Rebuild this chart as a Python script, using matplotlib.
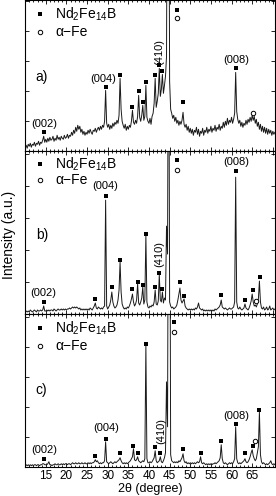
import numpy as np
import matplotlib.pyplot as plt
from matplotlib.ticker import MultipleLocator

plt.rcParams['font.family'] = ['Liberation Sans', 'DejaVu Sans']
plt.rcParams['mathtext.fontset'] = 'custom'
plt.rcParams['mathtext.rm'] = 'Liberation Sans'
plt.rcParams['mathtext.it'] = 'Liberation Sans:italic'

# 2theta grid, 0.25 deg steps
two_theta = np.arange(10.0, 70.51, 0.25)

int_a = [4, 6, 3, 7, 5, 8, 4, 7, 6, 9, 5, 8, 7, 10, 6, 9, 8, 11, 15, 9,
         12, 9, 13, 10, 14, 11, 12, 15, 10, 13, 11, 16, 12, 14, 11, 15, 13, 12, 16, 13,
         14, 17, 13, 16, 15, 19, 16, 21, 18, 24, 20, 26, 22, 25, 19, 22, 17, 20, 16, 19,
         17, 21, 18, 22, 19, 17, 21, 20, 23, 19, 22, 24, 21, 25, 22, 26, 24, 30, 61, 28,
         24, 27, 22, 26, 23, 28, 25, 29, 27, 31, 28, 36, 73, 42, 30, 26, 23, 27, 21, 25,
         22, 26, 24, 30, 41, 29, 27, 31, 28, 35, 56, 34, 30, 36, 46, 31, 35, 66, 34, 30,
         28, 33, 27, 35, 38, 48, 73, 44, 50, 58, 83, 55, 62, 77, 58, 66, 75, 95, 400, 400,
         70, 42, 38, 33, 36, 30, 34, 28, 31, 26, 30, 27, 31, 39, 27, 24, 27, 21, 25, 19,
         23, 18, 22, 16, 21, 19, 24, 17, 22, 15, 20, 18, 23, 16, 21, 19, 24, 18, 22, 20,
         25, 19, 23, 21, 26, 20, 24, 22, 27, 21, 25, 23, 29, 24, 30, 26, 33, 27, 31, 29,
         34, 28, 32, 38, 79, 40, 32, 28, 31, 25, 29, 24, 28, 26, 31, 27, 32, 29, 34, 30,
         36, 31, 35, 28, 32, 25, 29, 22, 27, 20, 25, 19, 24, 18, 23, 17, 22, 18, 21, 16,
         20, 17, 19]

int_b = [2, 3, 2, 3, 2, 4, 3, 2, 3, 4, 3, 2, 4, 3, 3, 4, 3, 4, 8, 3,
         3, 4, 3, 4, 3, 4, 4, 3, 5, 4, 3, 4, 5, 4, 4, 5, 4, 5, 4, 5,
         4, 5, 5, 6, 5, 6, 7, 6, 7, 6, 7, 6, 5, 6, 4, 5, 4, 5, 4, 5,
         4, 5, 4, 6, 5, 4, 6, 8, 11, 6, 5, 7, 6, 5, 6, 5, 7, 8, 114, 8,
         5, 7, 9, 14, 22, 12, 8, 6, 7, 9, 14, 24, 52, 22, 10, 7, 5, 6, 5, 7,
         6, 8, 11, 15, 20, 12, 8, 10, 14, 30, 11, 9, 12, 16, 27, 10, 14, 79, 12, 7,
         6, 8, 7, 9, 8, 12, 24, 10, 9, 13, 39, 14, 12, 22, 11, 16, 14, 88, 60, 400,
         12, 8, 6, 7, 5, 6, 7, 9, 14, 20, 26, 14, 11, 13, 15, 8, 6, 5, 4, 5,
         4, 5, 4, 5, 4, 6, 5, 7, 11, 6, 5, 4, 5, 3, 4, 3, 4, 3, 4, 3,
         4, 3, 4, 3, 5, 4, 5, 6, 7, 9, 14, 7, 6, 5, 6, 5, 4, 5, 6, 5,
         5, 6, 7, 12, 137, 12, 6, 5, 7, 5, 4, 5, 6, 10, 6, 5, 4, 6, 9, 13,
         20, 12, 8, 9, 7, 10, 15, 33, 12, 6, 5, 7, 4, 5, 7, 4, 5, 8, 4, 5,
         6, 4, 5]

int_c = [1, 2, 1, 2, 1, 2, 1, 2, 1, 2, 2, 1, 2, 2, 1, 2, 2, 3, 3, 2,
         2, 2, 3, 5, 2, 2, 1, 2, 2, 3, 2, 2, 3, 2, 2, 3, 2, 3, 2, 3,
         3, 2, 3, 3, 2, 3, 4, 3, 3, 4, 3, 3, 4, 3, 3, 4, 3, 3, 4, 3,
         3, 4, 3, 4, 3, 4, 4, 5, 7, 5, 6, 4, 3, 4, 3, 4, 4, 6, 25, 5,
         4, 3, 4, 5, 4, 3, 4, 5, 4, 5, 6, 7, 9, 6, 4, 3, 4, 3, 4, 3,
         4, 5, 6, 8, 10, 18, 7, 6, 7, 10, 6, 5, 4, 5, 6, 5, 8, 122, 8, 4,
         4, 5, 4, 5, 7, 9, 16, 6, 4, 5, 6, 10, 5, 4, 6, 9, 14, 85, 40, 400,
         400, 12, 6, 5, 4, 5, 4, 5, 4, 6, 5, 7, 9, 13, 6, 4, 5, 3, 4, 3,
         4, 3, 4, 3, 4, 3, 4, 5, 4, 5, 10, 4, 3, 4, 3, 2, 3, 2, 3, 2,
         3, 2, 3, 3, 4, 3, 4, 5, 6, 9, 22, 8, 4, 3, 4, 3, 2, 3, 4, 3,
         4, 3, 5, 8, 40, 8, 4, 3, 4, 3, 4, 5, 6, 8, 5, 4, 5, 7, 10, 14,
         17, 11, 8, 6, 8, 14, 20, 55, 12, 5, 3, 4, 3, 2, 3, 2, 3, 4, 6, 3,
         2, 3, 2]

# Nd2Fe14B (filled squares) and alpha-Fe (open circles) peak marks
nd_a_x = [14.5, 29.5, 33.0, 36.0, 37.5, 38.5, 39.25, 41.5, 42.5, 43.25, 46.9, 48.25, 61.0]
nd_a_y = [19, 64, 76, 44, 60, 49, 69, 76, 86, 80, 141, 49, 83]
fe_a_x = [46.9, 65.1]
fe_a_y = [133, 38]

nd_b_x = [14.5, 27.0, 29.5, 31.0, 33.0, 36.0, 37.25, 38.5, 39.25, 41.5, 42.5, 43.25,
          46.8, 47.5, 48.5, 57.5, 61.0, 63.25, 65.1, 66.8]
nd_b_y = [12, 15, 118, 27, 54, 25, 32, 29, 80, 27, 41, 25,
          154, 32, 18, 19, 143, 14, 24, 37]
fe_b_x = [46.8, 65.9]
fe_b_y = [144, 13]

nd_c_x = [14.5, 27.0, 29.5, 33.0, 36.25, 37.25, 39.25, 41.5, 42.75, 46.0, 48.25,
          52.5, 57.5, 61.0, 63.25, 65.1, 66.75]
nd_c_y = [8, 11, 28, 14, 21, 14, 123, 20, 14, 145, 18,
          14, 26, 43, 14, 21, 57]
fe_c_x = [46.0, 65.8]
fe_c_y = [135, 26]

# (hkl) labels: text, 2theta, height
hkl_a = [('(002)', 14.6, 27), ('(004)', 28.8, 72), ('(410)', 42.6, 99), ('(008)', 61.2, 91)]
hkl_b = [('(002)', 14.4, 21), ('(004)', 29.4, 128), ('(410)', 42.5, 60), ('(008)', 61.1, 152)]
hkl_c = [('(002)', 14.7, 17), ('(004)', 29.6, 39), ('(410)', 42.9, 36), ('(008)', 61.2, 51)]

panels = [
    ('a)', int_a, nd_a_x, nd_a_y, fe_a_x, fe_a_y, hkl_a, 151, 30, (137, 119), 74),
    ('b)', int_b, nd_b_x, nd_b_y, fe_b_x, fe_b_y, hkl_b, 163, 32, (150, 134), 79),
    ('c)', int_c, nd_c_x, nd_c_y, fe_c_x, fe_c_y, hkl_c, 153, 30, (139, 121), 77),
]

fig = plt.figure(figsize=(2.76, 4.96), dpi=100)
gs = fig.add_gridspec(3, 1, height_ratios=[151, 163, 153], hspace=0,
                      left=0.091, right=0.996, bottom=0.059, top=0.999)

for i, (tag, inten, ndx, ndy, fex, fey, hkl, ytop, ystep, leg_y, tag_y) in enumerate(panels):
    ax = fig.add_subplot(gs[i])
    ax.plot(two_theta, inten, color='#1a1a1a', lw=0.7)
    ax.plot(ndx, ndy, 's', color='k', ms=2.8, mew=0)
    ax.plot(fex, fey, 'o', mfc='white', mec='k', ms=3.2, mew=0.7)
    for txt, x, y in hkl:
        if txt == '(410)':
            ax.text(x, y, txt, rotation=90, ha='center', va='center', fontsize=8)
        else:
            ax.text(x, y, txt, ha='center', va='center', fontsize=8)

    # legend drawn by hand like the original
    ax.plot([13.6], [leg_y[0]], 's', color='k', ms=2.8, mew=0)
    ax.plot([13.6], [leg_y[1]], 'o', mfc='white', mec='k', ms=3.2, mew=0.7)
    ax.text(17.3, leg_y[0], 'Nd$_2$Fe$_{14}$B', va='center', fontsize=10)
    ax.text(17.3, leg_y[1], 'α−Fe', va='center', fontsize=10)
    ax.text(12.6, tag_y, tag, va='center', fontsize=10)

    ax.set_xlim(10, 70.5)
    ax.set_ylim(0, ytop)
    ax.xaxis.set_major_locator(MultipleLocator(5))
    ax.xaxis.set_minor_locator(MultipleLocator(1))
    ax.yaxis.set_major_locator(MultipleLocator(ystep))
    ax.tick_params(which='both', direction='in', top=True, right=True, width=0.6,
                   labelleft=False, labelsize=8.5, pad=2)
    ax.tick_params(which='major', length=3)
    ax.tick_params(which='minor', length=1.5)
    for s in ax.spines.values():
        s.set_linewidth(0.8)
    if i < 2:
        ax.tick_params(labelbottom=False)
    else:
        ax.set_xticks(np.arange(15, 70, 5))
        ax.set_xlabel('2θ (degree)', fontsize=9, labelpad=1)

fig.text(0.032, 0.526, 'Intensity (a.u.)', rotation=90, ha='center', va='center', fontsize=10)

fig.savefig('out.png', dpi=100)
